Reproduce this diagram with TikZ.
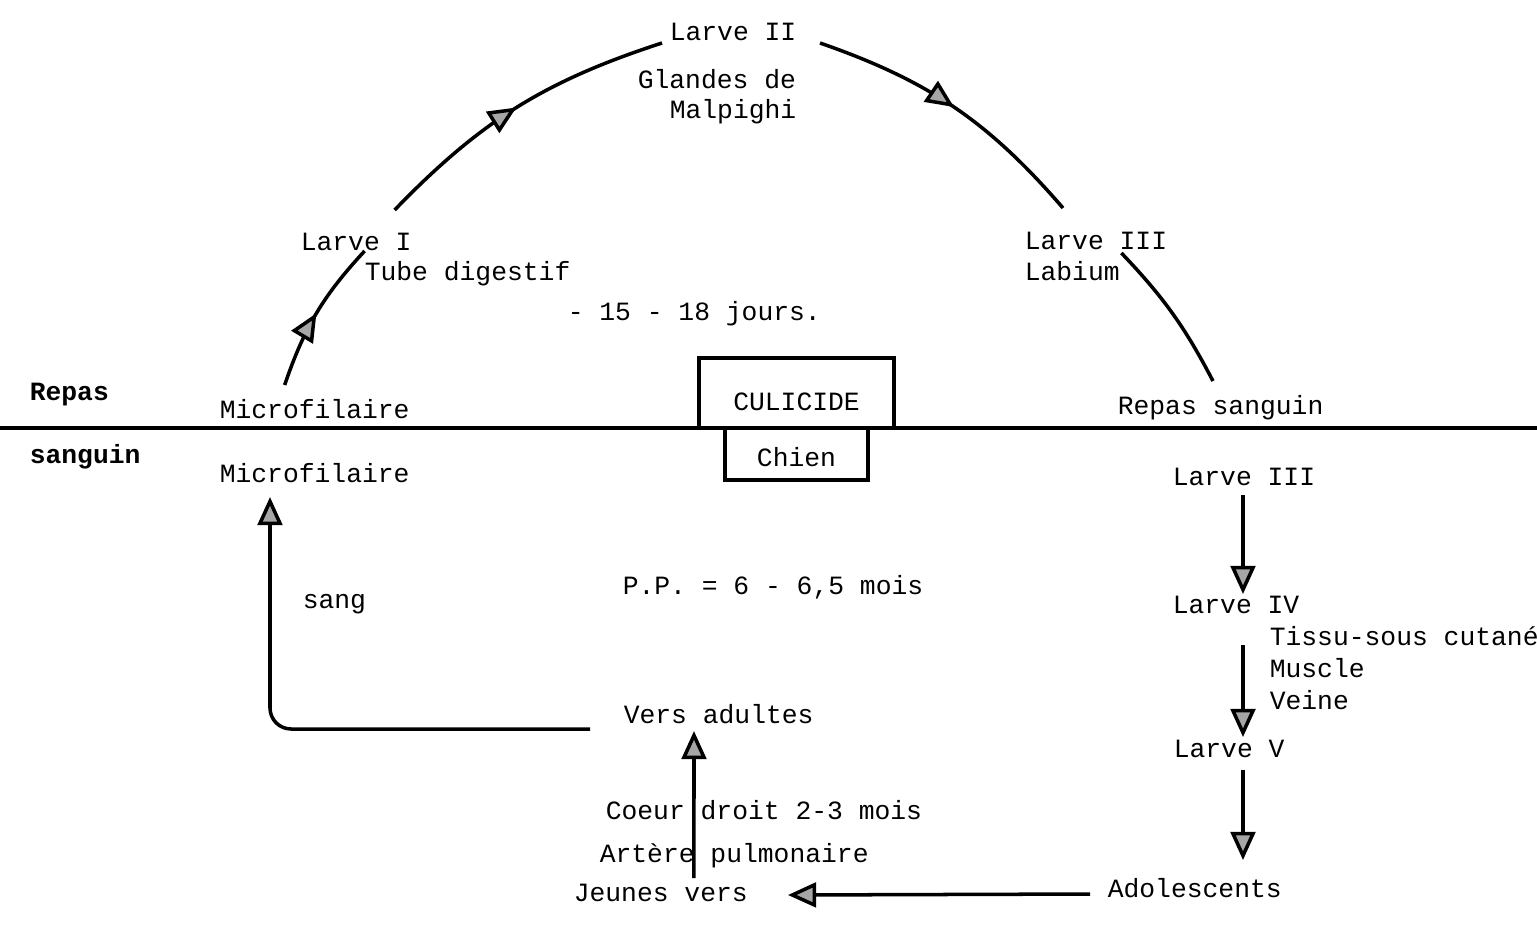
\documentclass[tikz,border=0pt]{standalone}
\usepackage{fontspec}
\setmonofont{Liberation Mono}
\usetikzlibrary{arrows.meta, decorations.markings}

\begin{document}
\begin{tikzpicture}[x=0.02cm, y=-0.02cm, >={Triangle[length=16pt, width=14pt, fill=gray!70]}, line width=2pt, font=\ttfamily\fontsize{15}{18}\selectfont]
        \tikzstyle{lbl} = [inner sep=0pt, anchor=base west]
        \tikzstyle{hdr} = [lbl, font=\ttfamily\bfseries\fontsize{15}{18}\selectfont]
        \tikzstyle{box} = [draw, line width=2.2pt, inner sep=0pt, text depth=0pt]
        \tikzstyle{midarrow} = [postaction={decorate}, decoration={markings, mark=at position 0.5 with {\arrow{>}}}]
        \useasboundingbox (0,0) rectangle (1537,924);

        % culicide
        \node [lbl] (l2) at (668,40) {Larve II};
        \node [lbl] (gl) at (636,88) {Glandes de};
        \node [lbl] (malp) at (668,118) {Malpighi};
        \node [lbl] (l1) at (299,250) {Larve I};
        \node [lbl] (tube) at (363,280) {Tube digestif};
        \node [lbl] (jours) at (566,320) {- 15 - 18 jours.};
        \node [lbl] (l3) at (1023,249) {Larve III};
        \node [lbl] (lab) at (1023,280) {Labium};
        \node [lbl] (mf1) at (218,418) {Microfilaire};
        \node [lbl] (rs) at (1116,414) {Repas sanguin};
        \node [hdr] (repas) at (28,400) {Repas};
        \node [hdr] (sanguin) at (28,463) {sanguin};

        \draw [line width=1.8pt] (0,428) -- (1537,428);
        \node [box, minimum width=3.9cm, minimum height=1.4cm, text height=0.68cm] (cul) at (796.5,393) {CULICIDE};
        \node [box, minimum width=2.86cm, minimum height=1.04cm, text height=0.48cm] (chien) at (796.5,454) {Chien};

        % chien
        \node [lbl] (mf2) at (218,482) {Microfilaire};
        \node [lbl] (l3b) at (1171,485) {Larve III};
        \node [lbl] (pp) at (621,594) {P.P. = 6 - 6,5 mois};
        \node [lbl] (sang) at (301,608) {sang};
        \node [lbl] (l4) at (1171,613) {Larve IV};
        \node [lbl] (tissu) at (1268,645) {Tissu-sous cutané};
        \node [lbl] (muscle) at (1268,677) {Muscle};
        \node [lbl] (veine) at (1268,709) {Veine};
        \node [lbl] (va) at (622,723) {Vers adultes};
        \node [lbl] (l5) at (1172,757) {Larve V};
        \node [lbl] (coeur) at (604,819) {Coeur droit 2-3 mois};
        \node [lbl] (artere) at (598,862) {Artère pulmonaire};
        \node [lbl] (jv) at (572,901) {Jeunes vers};
        \node [lbl] (ado) at (1106,897) {Adolescents};

        \draw [midarrow] ([xshift=-0.6cm, yshift=0.66cm]mf1.base) to[bend left=12] ([xshift=0.17cm, yshift=-0.02cm]l1.base);
        \draw [midarrow] ([xshift=0.77cm, yshift=0.8cm]l1.base) to[bend left=14] ([xshift=-0.12cm, yshift=-0.06cm]l2.base west);
        \draw [midarrow] ([xshift=0.44cm, yshift=-0.06cm]l2.base east) to[bend left=15] ([xshift=0.8cm, yshift=0.82cm]l3.base west);
        \draw ([yshift=0.54cm]lab.base east) to[bend left=8] ([xshift=1.94cm, yshift=0.66cm]rs.base west);

        \draw [->, rounded corners=12pt] ([xshift=-0.64cm, yshift=-0.12cm]va.base west) -| ([xshift=1.04cm, yshift=-0.3cm]mf2.base west);
        \draw [->] ([xshift=2.44cm, yshift=0.46cm]jv.base west) -- ([xshift=1.44cm, yshift=-0.16cm]va.base west);
        \draw [->] ([xshift=-0.32cm, yshift=0.06cm]ado.base west) -- ([xshift=0.77cm, yshift=0.12cm]jv.base east);
        \draw [->] ([xshift=1.44cm, yshift=-0.2cm]l3b.base west) -- ([xshift=1.44cm, yshift=0.38cm]l4.base west);
        \draw [->] ([xshift=1.44cm, yshift=-0.64cm]l4.base west) -- ([xshift=1.42cm, yshift=0.4cm]l5.base west);
        \draw [->] ([xshift=1.42cm, yshift=-0.26cm]l5.base west) -- ([xshift=2.74cm, yshift=0.74cm]ado.base west);
    \end{tikzpicture}
\end{document}
